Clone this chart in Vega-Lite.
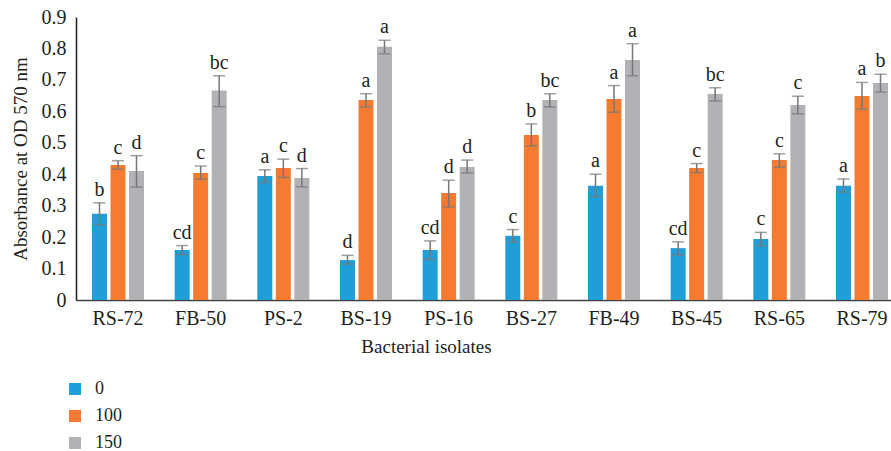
{
  "$schema": "https://vega.github.io/schema/vega-lite/v6.json",
  "width": 815,
  "height": 283,
  "autosize": {"type": "none"},
  "padding": {"left": 76, "top": 17, "right": 0, "bottom": 151},
  "config": {
    "view": {"stroke": null},
    "font": "Liberation Serif",
    "axis": {"grid": false, "ticks": false, "labelFont": "Liberation Serif", "titleFont": "Liberation Serif", "labelColor": "#231f20", "titleColor": "#231f20", "titleFontWeight": "normal", "labelOverlap": false}
  },
  "data": {
    "values": [
      {"isolate": "RS-72", "dose": "0", "value": 0.274, "lo": 0.239, "hi": 0.309, "letter": "b"},
      {"isolate": "RS-72", "dose": "100", "value": 0.429, "lo": 0.416, "hi": 0.443, "letter": "c"},
      {"isolate": "RS-72", "dose": "150", "value": 0.41, "lo": 0.359, "hi": 0.459, "letter": "d"},
      {"isolate": "FB-50", "dose": "0", "value": 0.159, "lo": 0.145, "hi": 0.173, "letter": "cd"},
      {"isolate": "FB-50", "dose": "100", "value": 0.404, "lo": 0.384, "hi": 0.426, "letter": "c"},
      {"isolate": "FB-50", "dose": "150", "value": 0.666, "lo": 0.615, "hi": 0.713, "letter": "bc"},
      {"isolate": "PS-2", "dose": "0", "value": 0.394, "lo": 0.374, "hi": 0.414, "letter": "a"},
      {"isolate": "PS-2", "dose": "100", "value": 0.42, "lo": 0.39, "hi": 0.448, "letter": "c"},
      {"isolate": "PS-2", "dose": "150", "value": 0.388, "lo": 0.36, "hi": 0.418, "letter": "d"},
      {"isolate": "BS-19", "dose": "0", "value": 0.127, "lo": 0.114, "hi": 0.142, "letter": "d"},
      {"isolate": "BS-19", "dose": "100", "value": 0.636, "lo": 0.614, "hi": 0.656, "letter": "a"},
      {"isolate": "BS-19", "dose": "150", "value": 0.805, "lo": 0.783, "hi": 0.826, "letter": "a"},
      {"isolate": "PS-16", "dose": "0", "value": 0.159, "lo": 0.129, "hi": 0.188, "letter": "cd"},
      {"isolate": "PS-16", "dose": "100", "value": 0.34, "lo": 0.296, "hi": 0.381, "letter": "d"},
      {"isolate": "PS-16", "dose": "150", "value": 0.423, "lo": 0.404, "hi": 0.445, "letter": "d"},
      {"isolate": "BS-27", "dose": "0", "value": 0.204, "lo": 0.184, "hi": 0.224, "letter": "c"},
      {"isolate": "BS-27", "dose": "100", "value": 0.525, "lo": 0.49, "hi": 0.56, "letter": "b"},
      {"isolate": "BS-27", "dose": "150", "value": 0.636, "lo": 0.614, "hi": 0.656, "letter": "bc"},
      {"isolate": "FB-49", "dose": "0", "value": 0.363, "lo": 0.329, "hi": 0.4, "letter": "a"},
      {"isolate": "FB-49", "dose": "100", "value": 0.639, "lo": 0.597, "hi": 0.682, "letter": "a"},
      {"isolate": "FB-49", "dose": "150", "value": 0.763, "lo": 0.713, "hi": 0.815, "letter": "a"},
      {"isolate": "BS-45", "dose": "0", "value": 0.165, "lo": 0.143, "hi": 0.185, "letter": "cd"},
      {"isolate": "BS-45", "dose": "100", "value": 0.42, "lo": 0.405, "hi": 0.434, "letter": "c"},
      {"isolate": "BS-45", "dose": "150", "value": 0.655, "lo": 0.633, "hi": 0.675, "letter": "bc"},
      {"isolate": "RS-65", "dose": "0", "value": 0.194, "lo": 0.172, "hi": 0.215, "letter": "c"},
      {"isolate": "RS-65", "dose": "100", "value": 0.445, "lo": 0.422, "hi": 0.465, "letter": "c"},
      {"isolate": "RS-65", "dose": "150", "value": 0.62, "lo": 0.592, "hi": 0.648, "letter": "c"},
      {"isolate": "RS-79", "dose": "0", "value": 0.363, "lo": 0.343, "hi": 0.385, "letter": "a"},
      {"isolate": "RS-79", "dose": "100", "value": 0.649, "lo": 0.607, "hi": 0.692, "letter": "a"},
      {"isolate": "RS-79", "dose": "150", "value": 0.69, "lo": 0.661, "hi": 0.718, "letter": "b"}
    ]
  },
  "encoding": {
    "x": {
      "field": "isolate",
      "type": "nominal",
      "sort": ["RS-72", "FB-50", "PS-2", "BS-19", "PS-16", "BS-27", "FB-49", "BS-45", "RS-65", "RS-79"],
      "scale": {"range": [0, 828], "paddingInner": 0.371, "paddingOuter": 0.1935},
      "axis": {
        "title": "Bacterial isolates",
        "labelAngle": 0,
        "labelFontSize": 20,
        "labelPadding": 8,
        "titleFontSize": 19,
        "titlePadding": 9,
        "titleX": 350,
        "titleAlign": "center",
        "domainColor": "#404040",
        "domainWidth": 1.5
      }
    },
    "xOffset": {
      "field": "dose",
      "type": "nominal",
      "sort": ["0", "100", "150"],
      "scale": {"paddingInner": 0.19, "paddingOuter": 0}
    }
  },
  "layer": [
    {
      "mark": {"type": "bar"},
      "encoding": {
        "y": {
          "field": "value",
          "type": "quantitative",
          "title": "Absorbance at OD 570 nm",
          "scale": {"domain": [0, 0.9], "nice": false},
          "axis": {
            "values": [0, 0.1, 0.2, 0.3, 0.4, 0.5, 0.6, 0.7, 0.8, 0.9],
            "tickCount": 10,
            "labelOverlap": false,
            "format": "~g",
            "labelFontSize": 20,
            "labelPadding": 10,
            "titleFontSize": 19,
            "titlePadding": 11,
            "domainColor": "#231f20",
            "domainWidth": 1.5
          }
        },
        "color": {
          "field": "dose",
          "type": "nominal",
          "sort": ["0", "100", "150"],
          "scale": {"domain": ["0", "100", "150"], "range": ["#1e9fd8", "#f47b2f", "#b1b2b6"]},
          "legend": {
            "title": null,
            "orient": "none",
            "legendX": -10,
            "legendY": 363,
            "symbolType": "square",
            "symbolSize": 144,
            "symbolStrokeWidth": 0,
            "labelFontSize": 18,
            "labelFont": "Liberation Serif",
            "labelColor": "#231f20",
            "labelOffset": 11,
            "rowPadding": 9
          }
        }
      }
    },
    {
      "mark": {"type": "rule", "color": "#777777", "strokeWidth": 1.5},
      "encoding": {
        "y": {"field": "lo", "type": "quantitative", "title": "Absorbance at OD 570 nm"},
        "y2": {"field": "hi"}
      }
    },
    {
      "mark": {"type": "tick", "color": "#777777", "thickness": 1.5, "size": 12},
      "encoding": {
        "y": {"field": "lo", "type": "quantitative", "title": "Absorbance at OD 570 nm"}
      }
    },
    {
      "mark": {"type": "tick", "color": "#777777", "thickness": 1.5, "size": 12},
      "encoding": {
        "y": {"field": "hi", "type": "quantitative", "title": "Absorbance at OD 570 nm"}
      }
    },
    {
      "mark": {"type": "text", "baseline": "alphabetic", "dy": -7, "fontSize": 20, "color": "#231f20", "font": "Liberation Serif"},
      "encoding": {
        "y": {"field": "hi", "type": "quantitative", "title": "Absorbance at OD 570 nm"},
        "text": {"field": "letter"}
      }
    }
  ]
}
